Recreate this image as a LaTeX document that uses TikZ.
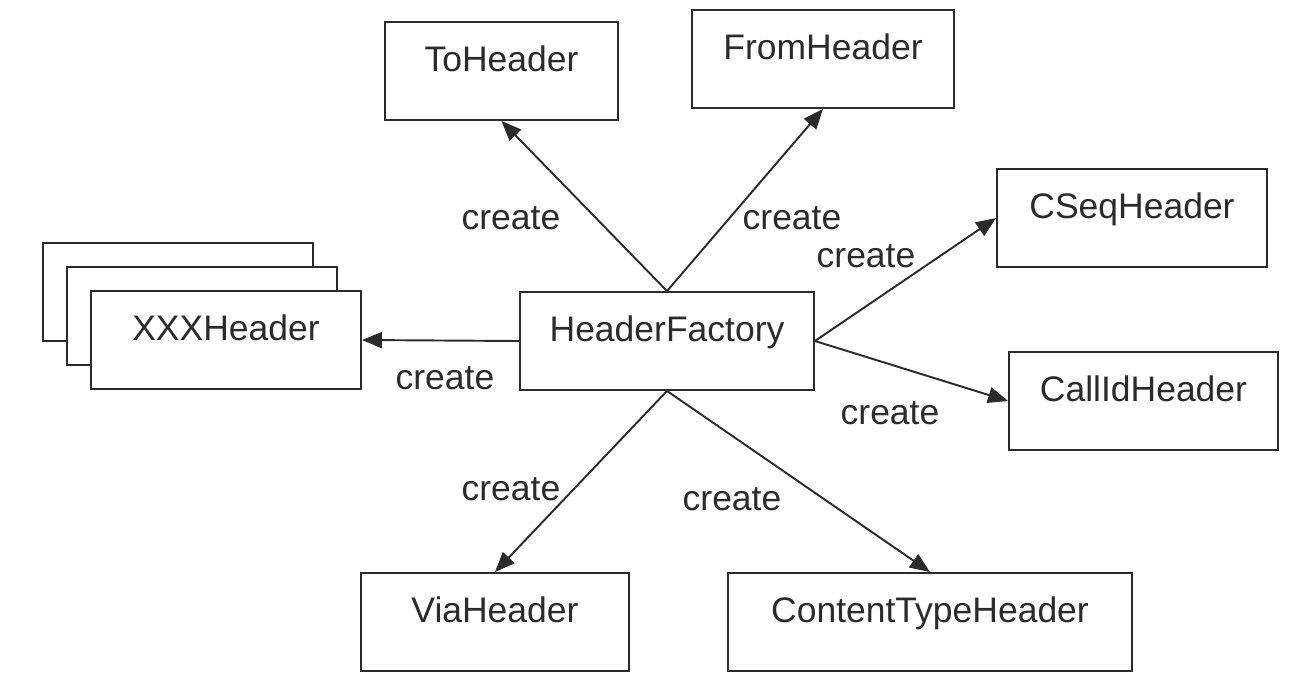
\documentclass[tikz,border=0pt]{standalone}
\usepackage{fontspec}
\setmainfont{Liberation Sans}
\usetikzlibrary{arrows.meta}
\definecolor{ink}{HTML}{2B2B2B}

\begin{document}
\begin{tikzpicture}[x=0.02cm,y=-0.02cm,
  hdr/.style={draw=ink,line width=1.1pt,fill=white,inner xsep=0pt,inner ysep=0pt,
    text height=0.98cm,text depth=0.98cm,anchor=base,text=ink,font=\fontsize{20.2}{24}\selectfont},
  mk/.style={draw=ink,line width=1.1pt,-{Triangle[length=0.4cm,width=0.32cm]}},
  lbl/.style={anchor=base,inner sep=0pt,text=ink,font=\fontsize{20.2}{24}\selectfont}]
\useasboundingbox (0,0) rectangle (1302,680);
\node [hdr,minimum width=5.4cm] (xxxc) at (178,292) {};
\node [hdr,minimum width=5.4cm] (xxxb) at (202,316) {};
\node [hdr,minimum width=5.4cm] (xxx) at (226,340) {XXXHeader};
\node [hdr,minimum width=5.88cm] (factory) at (667,341) {HeaderFactory};
\node [hdr,minimum width=4.66cm] (to) at (501.5,71) {ToHeader};
\node [hdr,minimum width=5.24cm] (from) at (823,59) {FromHeader};
\node [hdr,minimum width=5.4cm] (cseq) at (1132,218) {CSeqHeader};
\node [hdr,minimum width=5.38cm] (callid) at (1143.5,401) {CallIdHeader};
\node [hdr,minimum width=5.36cm] (via) at (495,622) {ViaHeader};
\node [hdr,minimum width=8.08cm] (ctype) at (930,622) {ContentTypeHeader};
\draw [mk] (factory.north) -- (to.south); \node [lbl] (lto) at (511,229) {create};
\draw [mk] (factory.north) -- (from.south); \node [lbl] (lfrom) at (792,229) {create};
\draw [mk] (factory.east) -- (cseq.west); \node [lbl] (lcseq) at (866,267) {create};
\draw [mk] (factory.east) -- (callid.west); \node [lbl] (lcallid) at (890,424) {create};
\draw [mk] (factory.west) -- (xxx.east); \node [lbl] (lxxx) at (445,389) {create};
\draw [mk] (factory.south) -- (via.north); \node [lbl] (lvia) at (511,500) {create};
\draw [mk] (factory.south) -- (ctype.north); \node [lbl] (lctype) at (732,510) {create};
\end{tikzpicture}
\end{document}
